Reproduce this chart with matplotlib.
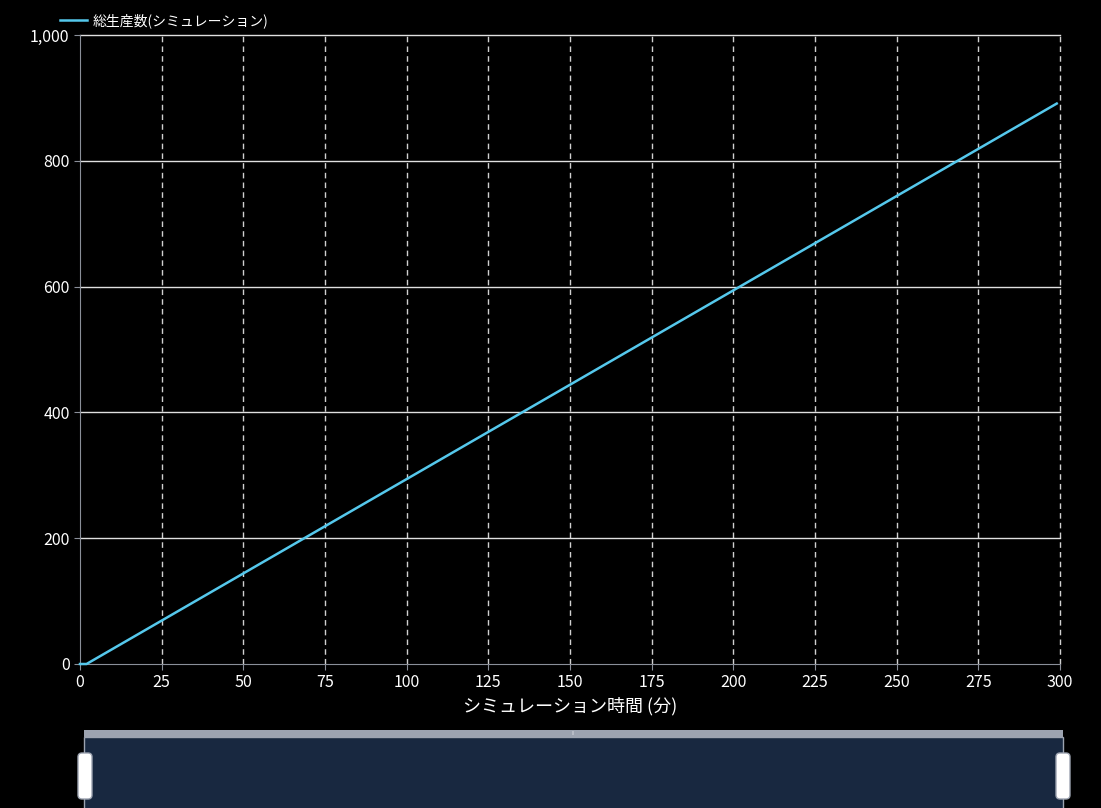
import matplotlib
matplotlib.use('Agg')
import matplotlib.pyplot as plt
from matplotlib.patches import Rectangle, FancyBboxPatch
from matplotlib.ticker import FuncFormatter

plt.rcParams['font.family'] = ['Noto Sans CJK JP', 'DejaVu Sans']

# data
t = [0, 2, 50, 100, 150, 200, 250, 299]
total = [0, 0, 144, 294, 444, 594, 744, 891]

series_label = '総生産数(シミュレーション)'
xlabel = 'シミュレーション時間 (分)'
xticks = list(range(0, 301, 25))
yticks = [0, 200, 400, 600, 800, 1000]

W, H = 1101, 808
fig = plt.figure(figsize=(W / 100, H / 100), dpi=100, facecolor='black')

ax = fig.add_axes([80 / W, (H - 664) / H, 980 / W, 629 / H], facecolor='black')
ax.plot(t, total, color='#55c8ec', lw=1.8, label=series_label, clip_on=False, zorder=3)

ax.set_xlim(0, 300)
ax.set_ylim(0, 1000)
ax.set_xticks(xticks)
ax.set_yticks(yticks)
ax.yaxis.set_major_formatter(FuncFormatter(lambda v, p: f'{int(v):,}'))

for x in xticks[1:]:
    ax.axvline(x, color='#d0d0d0', lw=1, ls=(0, (4, 3)), zorder=0, clip_on=False)
for y in yticks[1:]:
    ax.axhline(y, color='#e0e0e0', lw=1, zorder=0, clip_on=False)

for s in ['top', 'right']:
    ax.spines[s].set_visible(False)
ax.spines['left'].set_color('#8a8f99')
ax.spines['bottom'].set_color('#8a8f99')
ax.tick_params(colors='#8a8f99', labelcolor='white', labelsize=11.5, length=4)

ax.set_xlabel(xlabel, color='white', fontsize=13, labelpad=4)

leg = ax.legend(loc='lower left', bbox_to_anchor=(-0.027, 1.0), frameon=False,
                fontsize=10, labelcolor='white', handlelength=1.9, handletextpad=0.45,
                borderaxespad=0.1)

# data zoom slider at the bottom
sax = fig.add_axes([0, 0, 1, 1], facecolor='none')
sax.set_xlim(0, W)
sax.set_ylim(H, 0)
sax.axis('off')
sax.add_patch(Rectangle((84, 737), 979, 80, facecolor='#182840', edgecolor='#9ca3b0', lw=1))
sax.add_patch(Rectangle((84, 730), 979, 7, facecolor='#9ca3b0', edgecolor='none'))
sax.text(573, 733, '|||', color='white', fontsize=3, ha='center', va='center')
for hx in [85, 1063]:
    sax.add_patch(FancyBboxPatch((hx - 7, 753), 14, 46, boxstyle='round,pad=0,rounding_size=4',
                                 facecolor='white', edgecolor='#9ca3b0', lw=1))

fig.savefig('out.png', dpi=100, facecolor='black')
